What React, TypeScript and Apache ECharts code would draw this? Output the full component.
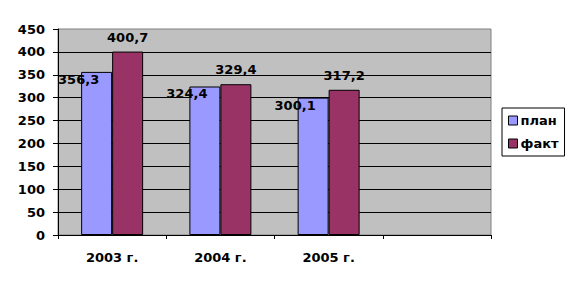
import React, { useEffect, useRef } from "react";
import * as echarts from "echarts";

const categories = ["2003 г.", "2004 г.", "2005 г.", ""];
const planValues = [356.3, 324.4, 300.1];
const factValues = [400.7, 329.4, 317.2];
const seriesNames = ["план", "факт"];

const FONT = "DejaVu Sans";
const FS = 13;
const fmt = (p: any) => String(p.value).replace(".", ",");

export default function App() {
  const ref = useRef<HTMLDivElement>(null);
  useEffect(() => {
    const chart = echarts.init(ref.current!, null, { renderer: "svg" });
    chart.setOption({
      animation: false,
      backgroundColor: "#FFFFFF",
      textStyle: { fontFamily: FONT },
      grid: {
        left: 58,
        right: 89,
        top: 29,
        bottom: 54,
        show: true,
        backgroundColor: "#C0C0C0",
        borderColor: "#808080",
        borderWidth: 1,
      },
      legend: {
        orient: "vertical",
        left: 502,
        top: 108,
        padding: [6, 6, 6, 6],
        itemGap: 10,
        itemWidth: 9,
        itemHeight: 9,
        borderColor: "#000000",
        borderWidth: 1,
        backgroundColor: "#FFFFFF",
        borderRadius: 0,
        icon: "rect",
        itemStyle: { borderColor: "#000000", borderWidth: 1 },
        textStyle: { fontFamily: FONT, fontWeight: "bold", fontSize: FS, color: "#000000", padding: [0, 0, 0, -2] },
        data: seriesNames,
      },
      xAxis: {
        type: "category",
        data: categories,
        axisLine: { show: true, lineStyle: { color: "#000000", width: 1 } },
        axisTick: { show: true, length: 4, lineStyle: { color: "#000000" } },
        axisLabel: { color: "#000000", fontFamily: FONT, fontWeight: "bold", fontSize: FS, margin: 16 },
        splitLine: { show: false },
      },
      yAxis: {
        type: "value",
        min: 0,
        max: 450,
        interval: 50,
        axisLine: { show: true, lineStyle: { color: "#000000", width: 1 } },
        axisTick: { show: true, length: 5, lineStyle: { color: "#000000" } },
        axisLabel: { color: "#000000", fontFamily: FONT, fontWeight: "bold", fontSize: FS, margin: 13 },
        splitLine: { show: true, showMaxLine: false, lineStyle: { color: "#000000", width: 1 } },
      },
      series: [
        {
          name: seriesNames[0],
          type: "bar",
          data: planValues,
          barWidth: 31,
          barGap: "0%",
          itemStyle: { color: "#9999FF", borderColor: "#000000", borderWidth: 1 },
          label: {
            show: true,
            position: "top",
            distance: 8,
            offset: [-18, 22],
            formatter: fmt,
            color: "#000000",
            fontFamily: FONT,
            fontWeight: "bold",
            fontSize: FS,
          },
        },
        {
          name: seriesNames[1],
          type: "bar",
          data: factValues,
          barWidth: 31,
          barGap: "0%",
          itemStyle: { color: "#993366", borderColor: "#000000", borderWidth: 1 },
          label: {
            show: true,
            position: "top",
            distance: 8,
            formatter: fmt,
            color: "#000000",
            fontFamily: FONT,
            fontWeight: "bold",
            fontSize: FS,
          },
        },
      ],
    });
    return () => chart.dispose();
  }, []);
  return (
    <div
      ref={ref}
      style={{ position: "absolute", left: 0, top: 0, width: 580, height: 289 }}
    />
  );
}
